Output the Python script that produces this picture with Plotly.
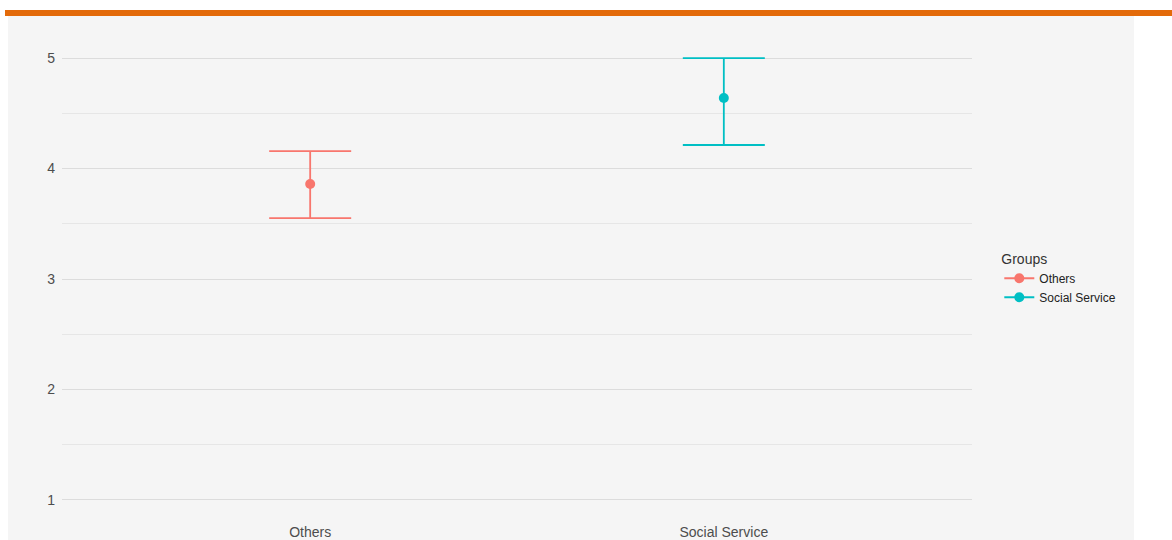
import plotly.graph_objects as go

groups = ["Others", "Social Service"]
means = [3.86, 4.638]
lower = [3.552, 4.213]
upper = [4.158, 5.0]
colors = ["#F8766D", "#00BFC4"]
y_ticks = [1, 2, 3, 4, 5]

fig = go.Figure()
for g, m, lo, hi, c in zip(groups, means, lower, upper, colors):
    fig.add_trace(go.Scatter(
        x=[g], y=[m], name=g, mode="lines+markers",
        marker=dict(color=c, size=10),
        line=dict(color=c, width=2),
        error_y=dict(type="data", symmetric=False, array=[hi - m], arrayminus=[m - lo],
                     color=c, thickness=1.8, width=41),
    ))

# background panel and orange top bar
fig.add_shape(type="rect", xref="paper", yref="paper", layer="below",
              x0=(8 - 62) / 910, x1=(1134 - 62) / 910, y0=(522 - 545) / 486, y1=(522 - 16) / 486,
              fillcolor="#F5F5F5", line=dict(width=0))
fig.add_shape(type="rect", xref="paper", yref="paper", layer="below",
              x0=(5 - 62) / 910, x1=(1180 - 62) / 910, y0=(522 - 16) / 486, y1=(522 - 10) / 486,
              fillcolor="#E36A0A", line=dict(width=0))

fig.update_layout(
    width=1172, height=540,
    margin=dict(l=62, r=200, t=36, b=18),
    paper_bgcolor="white", plot_bgcolor="#F5F5F5",
    font=dict(family="Liberation Sans, Arial, sans-serif", color="#4D4D4D"),
    showlegend=True,
    legend=dict(title=dict(text="Groups", font=dict(size=14, color="#333333")),
                font=dict(size=12, color="#222222"),
                x=1.03, xanchor="left", y=0.50, yanchor="middle",
                bgcolor="rgba(0,0,0,0)", tracegroupgap=0, itemwidth=30),
    xaxis=dict(range=[-0.6, 1.6], showgrid=False, zeroline=False, showline=False,
               tickfont=dict(size=14, color="#4D4D4D"), ticks="", ticklabelstandoff=0,
               automargin=False),
    yaxis=dict(range=[0.8, 5.2], tickvals=y_ticks, showgrid=True, gridcolor="#DCDCDC", gridwidth=1,
               zeroline=False, showline=False, tickfont=dict(size=14, color="#4D4D4D"),
               ticks="", ticklabelstandoff=6, automargin=False,
               minor=dict(showgrid=True, gridcolor="#E6E6E6", dtick=0.5, tick0=0.5)),
)

fig.write_html("out.html")
